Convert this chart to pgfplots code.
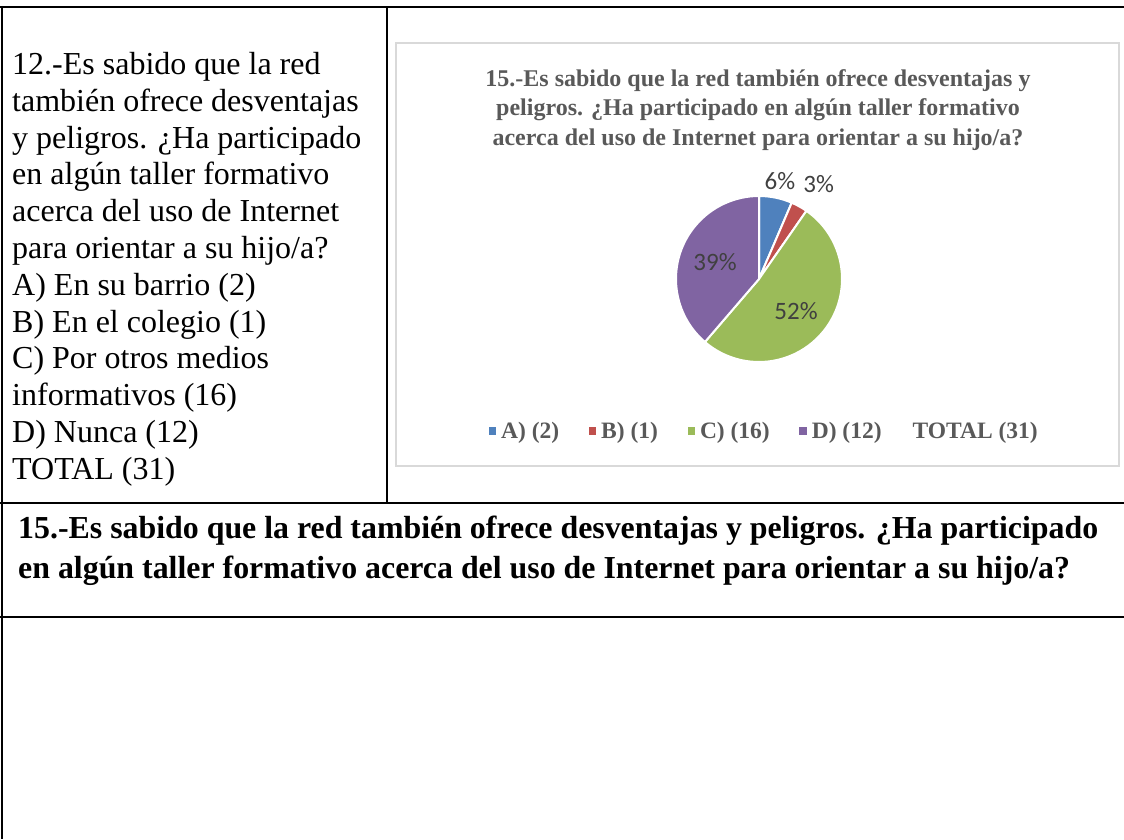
\documentclass[border=0pt]{standalone}
\usepackage{pgfplots}
\pgfplotsset{compat=1.18}
\usepackage{pgfplotstable}
\usepackage{fontspec}
\setmainfont{Liberation Serif}
\newfontfamily\calfont{Carlito}

\definecolor{pieA}{HTML}{4F81BD}
\definecolor{pieB}{HTML}{C0504D}
\definecolor{pieC}{HTML}{9BBB59}
\definecolor{pieD}{HTML}{8064A2}
\definecolor{titlegray}{HTML}{595959}
\definecolor{labelgray}{HTML}{404040}
\definecolor{framegray}{HTML}{D9D9D9}

\pgfplotsset{sqleg/.style={legend image code/.code={%
  \fill[##1, draw=none] (0pt,-3.5pt) rectangle (7.5pt,4pt);
  \path[draw=none, fill=none] (11pt,0pt);}}}

% answers to question 15
\pgfplotstableread{
cat value
A 2
B 1
C 16
D 12
}\piedata

\pgfplotstablegetelem{0}{value}\of\piedata\let\vA\pgfplotsretval
\pgfplotstablegetelem{1}{value}\of\piedata\let\vB\pgfplotsretval
\pgfplotstablegetelem{2}{value}\of\piedata\let\vC\pgfplotsretval
\pgfplotstablegetelem{3}{value}\of\piedata\let\vD\pgfplotsretval
\pgfmathsetmacro\vT{\vA+\vB+\vC+\vD}
% slice angles, clockwise from 12 o'clock
\pgfmathsetmacro\aA{90}
\pgfmathsetmacro\aB{\aA-360*\vA/\vT}
\pgfmathsetmacro\aC{\aB-360*\vB/\vT}
\pgfmathsetmacro\aD{\aC-360*\vC/\vT}
\pgfmathsetmacro\aE{\aD-360*\vD/\vT}
\pgfmathtruncatemacro\pA{round(100*\vA/\vT)}
\pgfmathtruncatemacro\pB{round(100*\vB/\vT)}
\pgfmathtruncatemacro\pC{round(100*\vC/\vT)}
\pgfmathtruncatemacro\pD{round(100*\vD/\vT)}

\newlength\bw

\begin{document}%
\settowidth\bw{\bfseries\fontsize{32}{40}\selectfont 15.-Es sabido que la red también ofrece desventajas y peligros. ¿Ha participado}%
\pgfmathsetmacro\bxs{1080/\bw}%
\begin{tikzpicture}[x=1pt,y=1pt]
\path[use as bounding box] (0,0) rectangle (1124,839);

% table rules
\draw[line width=2.5pt] (0,832) -- (1124,832);
\draw[line width=1.3pt] (2,833) -- (2,0);
\draw[line width=1.3pt] (387,832) -- (387,336);
\draw[line width=2.5pt] (0,336) -- (1124,336);
\draw[line width=2.5pt] (0,222) -- (1124,222);

% left cell
\node[anchor=north west, inner sep=0pt, align=left,
      font=\fontsize{32}{36.8}\selectfont] at (12,787) {%
12.-Es sabido que la red\\
también ofrece desventajas\\
y peligros. ¿Ha participado\\
en algún taller formativo\\
acerca del uso de Internet\\
para orientar a su hijo/a?\\
A) En su barrio (2)\\
B) En el colegio (1)\\
C) Por otros medios\\
informativos (16)\\
D) Nunca (12)\\
TOTAL (31)};

% chart frame and title
\draw[framegray, line width=1.5pt] (396,373) rectangle (1119,796);
\node[anchor=north, inner sep=0pt, align=center, text=titlegray,
      font=\bfseries\fontsize{24}{29.5}\selectfont] at (758,770) {%
15.-Es sabido que la red también ofrece desventajas y\\
peligros. ¿Ha participado en algún taller formativo\\
acerca del uso de Internet para orientar a su hijo/a?};

\begin{axis}[
    at={(759pt,560pt)}, anchor=center,
    width=166pt, height=166pt, scale only axis,
    hide axis, clip=false,
    xmin=-1, xmax=1, ymin=-1, ymax=1,
    legend columns=-1,
    legend style={at={(0.53,-0.416)}, anchor=center, draw=none, fill=none,
      font=\bfseries\fontsize{23.5}{23.5}\selectfont, text=titlegray,
      inner sep=0pt, nodes={inner sep=1.5pt},
      /tikz/every even column/.append style={column sep=28pt}},
    ]
\fill[pieA, draw=white, line width=2pt] (axis cs:0,0) -- ++(\aA:83pt) arc[start angle=\aA, end angle=\aB, radius=83pt] -- cycle;
\fill[pieB, draw=white, line width=2pt] (axis cs:0,0) -- ++(\aB:83pt) arc[start angle=\aB, end angle=\aC, radius=83pt] -- cycle;
\fill[pieC, draw=white, line width=2pt] (axis cs:0,0) -- ++(\aC:83pt) arc[start angle=\aC, end angle=\aD, radius=83pt] -- cycle;
\fill[pieD, draw=white, line width=2pt] (axis cs:0,0) -- ++(\aD:83pt) arc[start angle=\aD, end angle=\aE, radius=83pt] -- cycle;

\node[font=\calfont\fontsize{25}{25}\selectfont, text=labelgray] at (axis cs:0.253,1.18) {\pA\%};
\node[font=\calfont\fontsize{25}{25}\selectfont, text=labelgray] at (axis cs:0.72,1.145) {\pB\%};
\node[font=\calfont\fontsize{25}{25}\selectfont, text=labelgray] at (axis cs:0.446,-0.386) {\pC\%};
\node[font=\calfont\fontsize{25}{25}\selectfont, text=labelgray] at (axis cs:-0.53,0.205) {\pD\%};

\addlegendimage{sqleg, fill=pieA}
\addlegendentry{A) (2)}
\addlegendimage{sqleg, fill=pieB}
\addlegendentry{B) (1)}
\addlegendimage{sqleg, fill=pieC}
\addlegendentry{C) (16)}
\addlegendimage{sqleg, fill=pieD}
\addlegendentry{D) (12)}
\addlegendimage{empty legend}
\addlegendentry{TOTAL (31)}
\end{axis}

% question row
\node[anchor=north west, inner sep=0pt, align=left,
      font=\bfseries\fontsize{32}{40}\selectfont] at (18,323) {%
\scalebox{\bxs}[1]{15.-Es sabido que la red también ofrece desventajas y peligros. ¿Ha participado}\\
\scalebox{\bxs}[1]{en algún taller formativo acerca del uso de Internet para orientar a su hijo/a?}};
\end{tikzpicture}%
\end{document}
